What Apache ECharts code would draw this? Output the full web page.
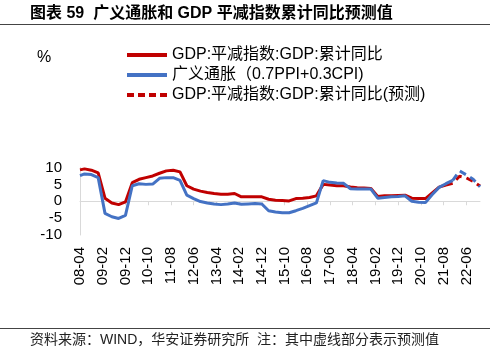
<!DOCTYPE html>
<html><head><meta charset="utf-8">
<script src="https://cdn.jsdelivr.net/npm/echarts@6/dist/echarts.min.js"></script>
<style>html,body{margin:0;padding:0;background:#fff}#c{width:490px;height:352px}</style>
</head><body><div id="c"></div>
<script>
const titleText = '图表 59  广义通胀和 GDP 平减指数累计同比预测值';
const sourceText = '资料来源：WIND，华安证券研究所  注：其中虚线部分表示预测值';
const unitText = '%';
const seriesNames = ['GDP:平减指数:GDP:累计同比', '广义通胀（0.7PPI+0.3CPI)', 'GDP:平减指数:GDP:累计同比(预测)'];

// monthly category axis 2008-04 .. 2022-12
const months = [];
for (let y = 2008; y <= 2022; y++) for (let m = 1; m <= 12; m++) {
  if (y === 2008 && m < 4) continue;
  months.push(String(y % 100).padStart(2, '0') + '-' + String(m).padStart(2, '0'));
}
const yTicks = [-10, -5, 0, 5, 10];

const redDates = ['08-04','08-06','08-09','08-12','09-03','09-06','09-09','09-12','10-03','10-06','10-09','10-12','11-03','11-06','11-09','11-12','12-03','12-06','12-09','12-12','13-03','13-06','13-09','13-12','14-03','14-06','14-09','14-12','15-03','15-06','15-09','15-12','16-03','16-06','16-09','16-12','17-03','17-06','17-09','17-12','18-03','18-06','18-09','18-12','19-03','19-06','19-09','19-12','20-03','20-06','20-09','20-12','21-03','21-06','21-09'];
const redValues = [9.3,9.6,9.2,8.4,0.9,-0.5,-1.0,-0.2,5.5,6.5,7.0,7.5,8.3,9.0,9.2,8.7,4.6,3.6,3.0,2.6,2.3,2.1,2.1,2.3,1.3,1.3,1.3,1.3,0.6,0.3,0.2,0.1,0.8,0.9,1.1,1.6,5.0,4.8,4.6,4.6,4.2,4.0,3.9,3.8,1.4,1.6,1.6,1.7,1.8,0.9,0.8,0.8,2.5,4.2,4.8];

const blueDates = ['08-04','08-06','08-09','08-12','09-03','09-06','09-09','09-12','10-03','10-06','10-09','10-12','11-03','11-06','11-09','11-12','12-03','12-06','12-09','12-12','13-03','13-06','13-09','13-12','14-03','14-06','14-09','14-12','15-03','15-06','15-09','15-12','16-03','16-06','16-09','16-12','17-03','17-06','17-09','17-12','18-03','18-06','18-09','18-12','19-03','19-06','19-09','19-12','20-03','20-06','20-09','20-12','21-03','21-06','21-09','21-12'];
const blueValues = [7.6,8.1,7.9,7.0,-3.6,-4.6,-5.1,-4.2,4.6,5.2,5.0,5.1,6.8,7.0,7.0,6.2,1.8,0.8,-0.1,-0.5,-0.8,-1.0,-0.8,-0.5,-0.9,-0.8,-0.7,-0.8,-2.8,-3.2,-3.4,-3.4,-2.8,-2.1,-1.3,-0.5,6.1,5.6,5.4,5.3,3.7,3.6,3.6,3.6,0.9,1.1,1.3,1.4,1.6,0.0,-0.3,-0.4,2.0,4.1,5.2,6.2];

const redFcDates = ['21-09','21-12','22-03','22-06','22-09','22-12'];
const redFcValues = [4.8,5.3,7.4,6.9,5.9,4.5];
const blueFcDates = ['21-12','22-03','22-06','22-09','22-12'];
const blueFcValues = [6.2,9.0,7.8,6.5,4.3];

const pairs = (d, v) => d.map((k, i) => [months.indexOf(k), v[i]]);

const RED = '#C00000', BLUE = '#4472C4';
const FONT = "'Liberation Sans', Arial, 'Noto Sans CJK SC', sans-serif";
const SOLID_ICON = 'path://M0,0h40v4h-40z';
const DASH_ICON = 'path://M0,0h7v4h-7z M11,0h7v4h-7z M22,0h7v4h-7z M33,0h7v4h-7z';

const chart = echarts.init(document.getElementById('c'), null, {renderer: 'canvas'});
chart.setOption({
  animation: false,
  backgroundColor: '#fff',
  textStyle: {fontFamily: FONT},
  grid: {left: 80, right: 10, top: 167.5, bottom: 117},
  graphic: [
    {type: 'text', left: 30, top: 6, style: {text: titleText, font: "bold 16px 'Liberation Sans','Noto Sans CJK SC',sans-serif", fill: '#000'}},
    {type: 'line', shape: {x1: 0, y1: 24.5, x2: 490, y2: 24.5}, style: {stroke: '#444', lineWidth: 1}},
    {type: 'line', shape: {x1: 0, y1: 328.5, x2: 490, y2: 328.5}, style: {stroke: '#444', lineWidth: 1}},
    {type: 'text', left: 30, top: 333, style: {text: sourceText, font: "14px 'Liberation Sans','Noto Sans CJK SC',sans-serif", fill: '#222'}},
    {type: 'text', left: 37, top: 50, style: {text: unitText, font: "16px 'Liberation Sans',sans-serif", fill: '#000'}}
  ],
  legend: {
    orient: 'vertical', left: 122, top: 42,
    itemWidth: 40, itemHeight: 4, itemGap: 4,
    data: [
      {name: seriesNames[0], icon: SOLID_ICON},
      {name: seriesNames[1], icon: SOLID_ICON},
      {name: seriesNames[2], icon: DASH_ICON}
    ],
    textStyle: {fontSize: 16, color: '#000', fontFamily: FONT, lineHeight: 16}
  },
  xAxis: [
    {type: 'category', data: months, boundaryGap: false,
     axisLine: {onZero: true, lineStyle: {color: '#d9d9d9', width: 1}},
     axisTick: {show: true, interval: 9, length: 4, lineStyle: {color: '#d9d9d9'}},
     axisLabel: {show: false}, splitLine: {show: false}},
    {type: 'category', data: months, boundaryGap: false, position: 'bottom',
     axisLine: {show: false}, axisTick: {show: false},
     axisLabel: {show: true, interval: 9, rotate: 90, margin: 12, fontSize: 15, color: '#000', fontFamily: FONT}}
  ],
  yAxis: {
    type: 'value', min: yTicks[0], max: yTicks[yTicks.length - 1], interval: 5,
    axisLine: {show: true, lineStyle: {color: '#d9d9d9'}},
    axisTick: {show: false}, splitLine: {show: false},
    axisLabel: {fontSize: 15, color: '#000', margin: 18, fontFamily: FONT}
  },
  series: [
    {name: seriesNames[0], type: 'line', data: pairs(redDates, redValues), symbol: 'none', color: RED,
     lineStyle: {color: RED, width: 3}, z: 2},
    {name: seriesNames[2], type: 'line', data: pairs(redFcDates, redFcValues), symbol: 'none', color: RED,
     lineStyle: {color: RED, width: 3, type: [7, 5]}, z: 2},
    {name: seriesNames[1], type: 'line', data: pairs(blueDates, blueValues), symbol: 'none', color: BLUE,
     lineStyle: {color: BLUE, width: 3}, z: 3},
    {name: 'blueForecast', type: 'line', data: pairs(blueFcDates, blueFcValues), symbol: 'none', color: BLUE,
     lineStyle: {color: BLUE, width: 3, type: [7, 5]}, z: 3}
  ]
});
</script></body></html>
